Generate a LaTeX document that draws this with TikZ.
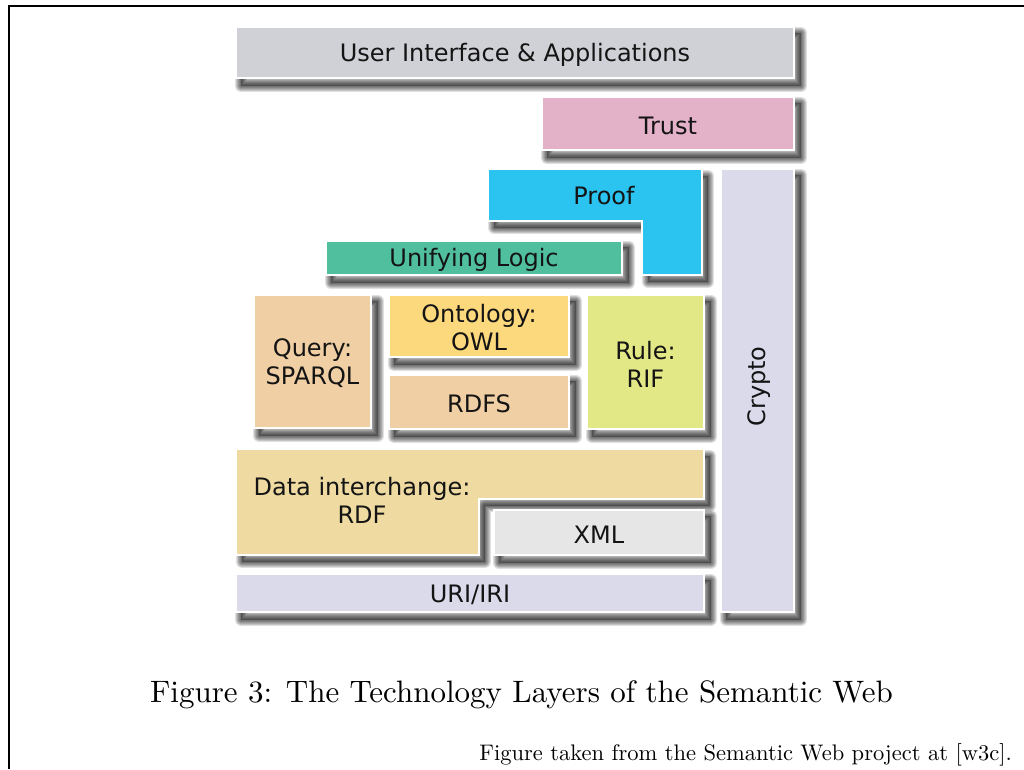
\documentclass[tikz,border=0pt]{standalone}
\usepackage{fontspec}
\newfontfamily\dv{DejaVu Sans}
\newfontfamily\lmten{lmroman10-regular.otf}
\pgfdeclarelayer{bg}
\pgfdeclarelayer{shadow}
\pgfsetlayers{bg,shadow,main}
\definecolor{uicol}{RGB}{208,209,214}
\definecolor{trustcol}{RGB}{227,177,200}
\definecolor{proofcol}{RGB}{43,195,240}
\definecolor{logiccol}{RGB}{80,191,158}
\definecolor{querycol}{RGB}{240,207,164}
\definecolor{owlcol}{RGB}{253,217,125}
\definecolor{rulecol}{RGB}{227,232,134}
\definecolor{rdfcol}{RGB}{239,219,162}
\definecolor{xmlcol}{RGB}{230,230,230}
\definecolor{uricol}{RGB}{218,218,235}
\definecolor{txtcol}{RGB}{20,20,20}
\tikzset{
  layerbox/.style={draw=white, line width=2.2pt, inner sep=0pt},
  lshape/.style={draw=white, line width=2.2pt, line join=miter},
  lbl/.style={inner sep=0pt, align=center, font=\dv\fontsize{24}{28}\selectfont, text=txtcol},
}
\newcommand\mkshadow[1]{%
  \begin{pgfonlayer}{shadow}
  \begin{scope}[shift={(6,7)}]
    \fill[black,opacity=0.3] #1;
    \foreach \w in {2,4,6,8,10,12}{\draw[black,opacity=0.12,line width=\w pt,line join=round] #1;}
  \end{scope}
  \end{pgfonlayer}}
% name, x1, y1, x2, y2, colour, text
\newcommand\layerrect[7]{%
  \mkshadow{(#2,#3) rectangle (#4,#5)}
  \node[layerbox, fill=#6, minimum width={(#4-#2-2.2)*1pt}, minimum height={(#5-#3-2.2)*1pt}]
    (#1) at ({(#2+#4)/2},{(#3+#5)/2}) {};
  \node[lbl, yshift=-2pt] (#1-text) at (#1.center) {#7};}
\begin{document}
\begin{tikzpicture}[x=1pt,y=-1pt]
\useasboundingbox (0,0) rectangle (1024,769);
\begin{pgfonlayer}{bg}
\fill[white] (0,0) rectangle (1024,769);
\end{pgfonlayer}
\draw[line width=1.4pt] (9,769) -- (9,6) -- (1024,6);

\layerrect{ui}{235}{26}{795}{79}{uicol}{User Interface \& Applications}
\layerrect{trust}{541}{96}{795}{151}{trustcol}{Trust}
\layerrect{crypto}{720}{168}{795}{613}{uricol}{}
\node[lbl, rotate=90] (cryptotxt) at ([xshift=2pt,yshift=4pt]crypto.center) {Crypto};

% Proof (L shape)
\mkshadow{(488,169) -- (702,169) -- (702,275) -- (642,275) -- (642,221) -- (488,221) -- cycle}
\path[lshape, fill=proofcol] (488,169) -- (702,169) -- (702,275) -- (642,275) -- (642,221) -- (488,221) -- cycle;
\node[lbl] (proof) at (604,196) {Proof};

\layerrect{logic}{325}{240}{623}{276}{logiccol}{Unifying Logic}
\layerrect{query}{253}{294}{372}{429}{querycol}{Query:\\SPARQL}
\layerrect{owl}{388}{294}{570}{358}{owlcol}{Ontology:\\OWL}
\layerrect{rdfs}{388}{374}{570}{430}{querycol}{RDFS}
\layerrect{rule}{586}{294}{705}{430}{rulecol}{Rule:\\RIF}

% Data interchange (L shape)
\mkshadow{(236,449) -- (704,449) -- (704,499) -- (479,499) -- (479,555) -- (236,555) -- cycle}
\path[lshape, fill=rdfcol] (236,449) -- (704,449) -- (704,499) -- (479,499) -- (479,555) -- (236,555) -- cycle;
\node[lbl] (rdf) at (362,500) {Data interchange:\\RDF};

\layerrect{xml}{493}{509}{705}{556}{xmlcol}{XML}
\layerrect{uri}{235}{573}{705}{613}{uricol}{URI/IRI}

\node[anchor=base, inner sep=0pt, font=\lmten\fontsize{31}{36}\selectfont] (caption) at (521.5,702) {Figure 3: The Technology Layers of the Semantic Web};
\node[anchor=base east, inner sep=0pt, font=\lmten\fontsize{22.5}{26}\selectfont] (source) at (1012,760) {Figure taken from the Semantic Web project at [w3c].};
\end{tikzpicture}
\end{document}
